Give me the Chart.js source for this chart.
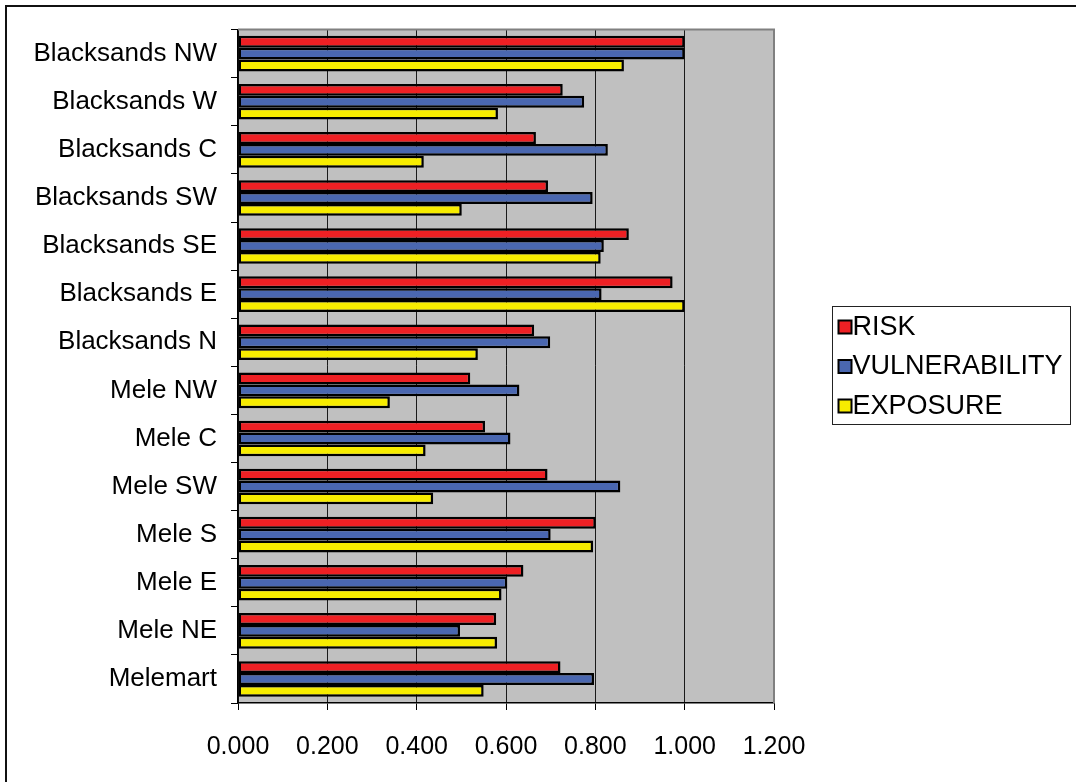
<!DOCTYPE html>
<html>
<head>
<meta charset="utf-8">
<title>Risk, vulnerability and exposure by area</title>
<script src="https://cdn.jsdelivr.net/npm/chart.js@4/dist/chart.umd.min.js"></script>
<style>
  html, body { margin: 0; padding: 0; background: #ffffff; }
  #wrap { position: relative; width: 1076px; height: 782px; }
  canvas { display: block; }
</style>
</head>
<body>
<div id="wrap"><canvas id="chart" width="1076" height="782"></canvas></div>
<script>
// Areas, listed top to bottom
const areas = [
  'Blacksands NW', 'Blacksands W', 'Blacksands C', 'Blacksands SW',
  'Blacksands SE', 'Blacksands E', 'Blacksands N', 'Mele NW',
  'Mele C', 'Mele SW', 'Mele S', 'Mele E', 'Mele NE', 'Melemart'
];

// Index values per area
const risk = [1.000, 0.727, 0.667, 0.694, 0.875, 0.973, 0.663, 0.520, 0.553, 0.693, 0.801, 0.639, 0.578, 0.722];
const vulnerability = [1.000, 0.775, 0.828, 0.794, 0.819, 0.814, 0.699, 0.630, 0.610, 0.856, 0.700, 0.603, 0.497, 0.797];
const exposure = [0.864, 0.582, 0.416, 0.501, 0.812, 1.000, 0.537, 0.340, 0.420, 0.437, 0.795, 0.590, 0.580, 0.550];

// Value axis ticks
const xTicks = [0.0, 0.2, 0.4, 0.6, 0.8, 1.0, 1.2];

const FONT = 'Liberation Sans, Arial, Helvetica, sans-serif';

// Frame, plot background and legend box
const decorations = {
  id: 'decorations',
  beforeDraw(chart) {
    const ctx = chart.ctx;
    const a = chart.chartArea;
    ctx.save();
    ctx.fillStyle = '#ffffff';
    ctx.fillRect(0, 0, chart.width, chart.height);
    // outer frame (runs off the right and bottom edges)
    ctx.fillStyle = '#111111';
    ctx.fillRect(5, 5, 2, chart.height);
    ctx.fillRect(5, 5, chart.width, 2);
    // plot background
    ctx.fillStyle = '#c0c0c0';
    ctx.fillRect(a.left, a.top, a.right - a.left, a.bottom - a.top);
    ctx.restore();
  },
  beforeDatasetsDraw(chart) {
    const ctx = chart.ctx;
    const a = chart.chartArea;
    ctx.save();
    ctx.strokeStyle = '#808080';
    ctx.lineWidth = 2;
    ctx.beginPath();
    ctx.moveTo(a.left, a.top);
    ctx.lineTo(a.right, a.top);
    ctx.lineTo(a.right, a.bottom);
    ctx.stroke();
    ctx.restore();
  },
  afterDraw(chart) {
    const ctx = chart.ctx;
    const a = chart.chartArea;
    const bx = a.right + 58.5, by = 306.5, bw = 238, bh = 118;
    ctx.save();
    ctx.fillStyle = '#ffffff';
    ctx.fillRect(bx, by, bw, bh);
    ctx.strokeStyle = '#222222';
    ctx.lineWidth = 1;
    ctx.strokeRect(bx, by, bw, bh);
    ctx.font = '27px ' + FONT;
    ctx.textBaseline = 'middle';
    ctx.textAlign = 'left';
    chart.data.datasets.forEach((ds, i) => {
      const cy = by + 20 + i * 39.5;
      ctx.fillStyle = ds.backgroundColor;
      ctx.fillRect(bx + 6, cy - 6, 13, 13);
      ctx.strokeStyle = '#000000';
      ctx.lineWidth = 2;
      ctx.strokeRect(bx + 6, cy - 6, 13, 13);
      ctx.fillStyle = '#000000';
      ctx.fillText(ds.label, bx + 20, cy + 1);
    });
    ctx.restore();
  }
};

const barStyle = { borderColor: '#000000', borderWidth: 2.5, borderSkipped: false, categoryPercentage: 0.74, barPercentage: 1.0 };

new Chart(document.getElementById('chart'), {
  type: 'bar',
  data: {
    labels: areas,
    datasets: [
      Object.assign({ label: 'RISK', data: risk, backgroundColor: '#ee2024' }, barStyle),
      Object.assign({ label: 'VULNERABILITY', data: vulnerability, backgroundColor: '#4a67b0' }, barStyle),
      Object.assign({ label: 'EXPOSURE', data: exposure, backgroundColor: '#f7ec00' }, barStyle)
    ]
  },
  options: {
    indexAxis: 'y',
    responsive: false,
    animation: false,
    devicePixelRatio: 1,
    layout: { padding: { left: 0, top: 27, right: 302, bottom: 0 } },
    plugins: {
      legend: { display: false },
      tooltip: { enabled: false }
    },
    scales: {
      x: {
        min: 0,
        max: 1.2,
        afterBuildTicks(scale) { scale.ticks = xTicks.map(v => ({ value: v })); },
        afterFit(scale) { scale.height = 79; },
        grid: {
          color: (c) => (c.tick && Math.abs(c.tick.value - 1.2) < 1e-6) ? '#808080' : '#1a1a1a',
          lineWidth: 1,
          tickLength: 7,
          tickColor: '#000000',
          drawOnChartArea: true
        },
        border: { display: true, color: '#000000', width: 1.5 },
        ticks: {
          color: '#000000',
          padding: 22,
          font: { family: FONT, size: 25 },
          callback: (v) => Number(v).toFixed(3)
        }
      },
      y: {
        afterFit(scale) { scale.width = 238; },
        grid: {
          offset: true,
          drawOnChartArea: false,
          tickLength: 7,
          tickColor: '#000000'
        },
        border: { display: true, color: '#000000', width: 1.5 },
        ticks: {
          color: '#000000',
          padding: 14,
          font: { family: FONT, size: 26 }
        }
      }
    }
  },
  plugins: [decorations]
});
</script>
</body>
</html>
